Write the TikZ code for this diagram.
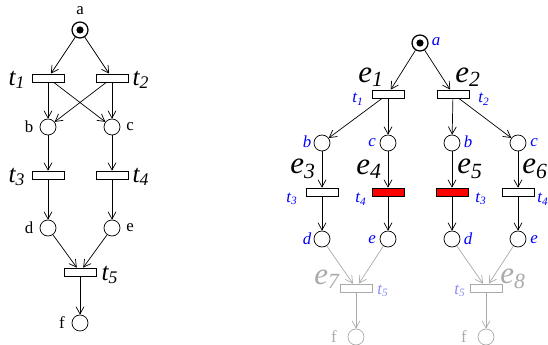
\documentclass[tikz,border=0pt]{standalone}
\usepackage{fontspec}
\setmainfont{Liberation Serif}
\usepackage{xcolor}
\usepackage{tikz}
\usetikzlibrary{arrows.meta}
\definecolor{PNBlue}{RGB}{0, 0, 255}
\definecolor{PNGray}{RGB}{170, 170, 170}
\definecolor{PNLilac}{RGB}{140, 140, 240}
\definecolor{PNRed}{RGB}{255, 0, 0}

\begin{document}
\begin{tikzpicture}[x=0.25mm,y=-0.25mm,
  place/.style={circle, draw, minimum size=4mm, inner sep=0pt, line width=0.5pt},
  trans/.style={rectangle, draw, minimum width=8mm, minimum height=2mm, inner sep=0pt, line width=0.5pt},
  arc/.style={-{Straight Barb[length=1.8mm,width=2mm]}, line width=0.5pt},
  lbl/.style={font=\fontsize{12}{14}\selectfont, inner sep=0pt},
  tlbl/.style={font=\fontsize{18}{20}\selectfont\itshape, inner sep=0pt},
  elbl/.style={font=\fontsize{22}{24}\selectfont\itshape, inner sep=0pt},
  blbl/.style={text=PNBlue, font=\fontsize{12}{13}\selectfont\itshape, inner sep=0pt},
  ghost/.style={draw=PNGray, text=PNGray}]
  \path[use as bounding box] (0,0) rectangle (548,345);
  \fill[white] (0,0) rectangle (548,345);

  % left net
  \node[place, line width=0.9pt] (a) at (80,30) {};
  \fill (a) circle (0.9mm);
  \node[trans] (t1) at (48,78) {};
  \node[trans] (t2) at (112,78) {};
  \node[place] (b) at (48,127) {};
  \node[place] (c) at (112,127) {};
  \node[trans] (t3) at (48,175) {};
  \node[trans] (t4) at (112,175) {};
  \node[place] (d) at (48,228) {};
  \node[place] (e) at (112,228) {};
  \node[trans] (t5) at (80,272) {};
  \node[place] (f) at (80,323) {};

  \node[lbl] (la) at (80,11) {a};
  \node[lbl] (lb) at (29,127) {b};
  \node[lbl] (lc) at (130,127) {c};
  \node[lbl] (ld) at (29,228) {d};
  \node[lbl] (le) at (130,228) {e};
  \node[lbl] (lf) at (62,323) {f};
  \node[tlbl] (lt1) at (17,80) {t\textsubscript{1}};
  \node[tlbl] (lt2) at (141,80) {t\textsubscript{2}};
  \node[tlbl] (lt3) at (17,177) {t\textsubscript{3}};
  \node[tlbl] (lt4) at (141,177) {t\textsubscript{4}};
  \node[tlbl] (lt5) at (110,275) {t\textsubscript{5}};

  \draw[arc] (a) -- (t1);
  \draw[arc] (a) -- (t2);
  \draw[arc] (t1) -- (b);
  \draw[arc] (t1) -- (c);
  \draw[arc] (t2) -- (b);
  \draw[arc] (t2) -- (c);
  \draw[arc] (b) -- (t3);
  \draw[arc] (c) -- (t4);
  \draw[arc] (t3) -- (d);
  \draw[arc] (t4) -- (e);
  \draw[arc] (d) -- (t5);
  \draw[arc] (e) -- (t5);
  \draw[arc] (t5) -- (f);

  % unfolding
  \node[place, line width=0.9pt] (ra) at (420,43) {};
  \fill (ra) circle (0.9mm);
  \node[trans] (e1) at (388,94) {};
  \node[trans] (e2) at (453,94) {};
  \node[place] (rb1) at (322,143) {};
  \node[place] (rc1) at (388,143) {};
  \node[place] (rb2) at (452,143) {};
  \node[place] (rc2) at (518,143) {};
  \node[trans] (e3) at (322,192) {};
  \node[trans, fill=PNRed] (e4) at (388,192) {};
  \node[trans, fill=PNRed] (e5) at (452,192) {};
  \node[trans] (e6) at (518,192) {};
  \node[place] (rd1) at (322,239) {};
  \node[place] (re1) at (388,239) {};
  \node[place] (rd2) at (452,239) {};
  \node[place] (re2) at (518,239) {};
  \node[trans, ghost] (e7) at (356,288) {};
  \node[trans, ghost] (e8) at (486,288) {};
  \node[place, ghost] (rf1) at (356,337) {};
  \node[place, ghost] (rf2) at (486,337) {};

  \node[blbl] (la2) at (436,42) {a};
  \node[blbl] (lb1) at (307,142) {b};
  \node[blbl] (lc1) at (372,143) {c};
  \node[blbl] (lb2) at (468,142) {b};
  \node[blbl] (lc2) at (534,143) {c};
  \node[blbl] (ld1) at (307,239) {d};
  \node[blbl] (le1) at (372,240) {e};
  \node[blbl] (ld2) at (468,239) {d};
  \node[blbl] (le2) at (534,240) {e};
  \node[lbl, text=PNGray] (lf1) at (334,337) {f};
  \node[lbl, text=PNGray] (lf2) at (464,337) {f};

  \node[blbl] (lt1r) at (358,99) {t\textsubscript{1}};
  \node[blbl] (lt2r) at (484,99) {t\textsubscript{2}};
  \node[blbl] (lt3r) at (292,199) {t\textsubscript{3}};
  \node[blbl] (lt4r) at (361,199) {t\textsubscript{4}};
  \node[blbl] (lt3s) at (481,199) {t\textsubscript{3}};
  \node[blbl] (lt4s) at (543,199) {t\textsubscript{4}};
  \node[blbl, text=PNLilac] (lt5r) at (383,291) {t\textsubscript{5}};
  \node[blbl, text=PNLilac] (lt5s) at (460,291) {t\textsubscript{5}};

  \node[elbl] (le1l) at (371,77) {e\textsubscript{1}};
  \node[elbl] (le2l) at (468,77) {e\textsubscript{2}};
  \node[elbl] (le3l) at (303,169) {e\textsubscript{3}};
  \node[elbl] (le4l) at (369,169) {e\textsubscript{4}};
  \node[elbl] (le5l) at (470,169) {e\textsubscript{5}};
  \node[elbl] (le6l) at (535,169) {e\textsubscript{6}};
  \node[elbl, text=PNGray] (le7l) at (327,279) {e\textsubscript{7}};
  \node[elbl, text=PNGray] (le8l) at (513,279) {e\textsubscript{8}};

  \draw[arc] (ra) -- (e1);
  \draw[arc] (ra) -- (e2);
  \draw[arc] (e1) -- (rb1);
  \draw[arc] (e1) -- (rc1);
  \draw[arc] (e2) -- (rb2);
  \draw[arc] (e2) -- (rc2);
  \draw[arc] (rb1) -- (e3);
  \draw[arc] (rc1) -- (e4);
  \draw[arc] (rb2) -- (e5);
  \draw[arc] (rc2) -- (e6);
  \draw[arc] (e3) -- (rd1);
  \draw[arc] (e4) -- (re1);
  \draw[arc] (e5) -- (rd2);
  \draw[arc] (e6) -- (re2);
  \draw[arc, PNGray] (rd1) -- (e7);
  \draw[arc, PNGray] (re1) -- (e7);
  \draw[arc, PNGray] (rd2) -- (e8);
  \draw[arc, PNGray] (re2) -- (e8);
  \draw[arc, PNGray] (e7) -- (rf1);
  \draw[arc, PNGray] (e8) -- (rf2);
\end{tikzpicture}
\end{document}
